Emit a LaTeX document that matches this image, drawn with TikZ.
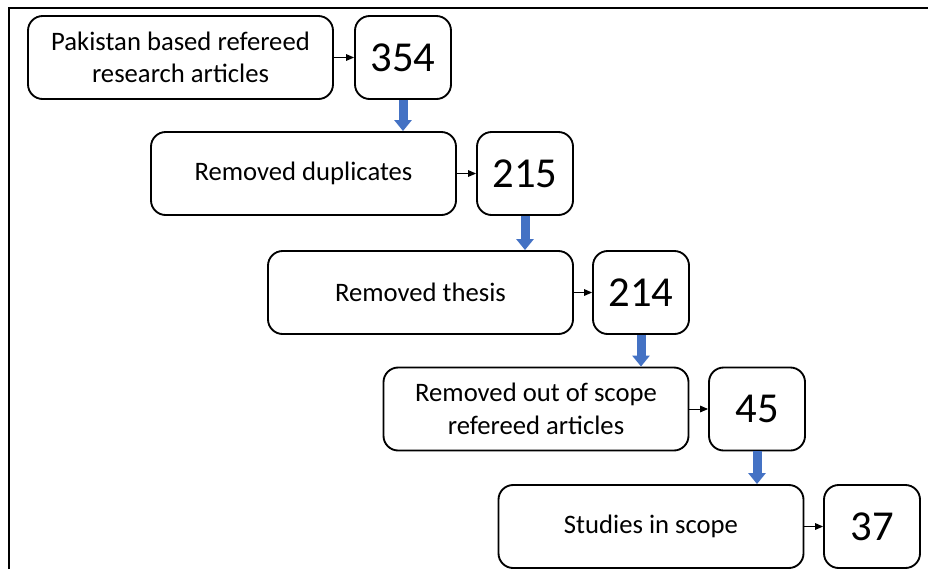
\documentclass[tikz,border=0pt]{standalone}
\usepackage{fontspec}
\setmainfont{Carlito}
\usetikzlibrary{arrows.meta}
\definecolor{dropblue}{RGB}{68,114,196}

\begin{document}
\begin{tikzpicture}[x=0.75pt,y=-0.75pt,
  stepbox/.style={draw=black,line width=1.4pt,rounded corners=11pt,
    minimum width=228.75pt,minimum height=62.25pt,inner sep=2pt,
    align=center,font=\fontsize{20}{24.5}\selectfont},
  countbox/.style={stepbox,minimum width=72pt,font=\fontsize{32}{38}\selectfont},
  link/.style={-{Triangle[length=6pt,width=5pt]},draw=black,line width=.75pt},
  drop/.style={-{Triangle[length=8.25pt,width=12.75pt]},draw=dropblue,line width=6.75pt}
]
 \path[use as bounding box] (0,0) rectangle (928,569);
 \draw[line width=1.5pt] (9,569) -- (9,8) -- (928,8);

 % screening steps, each with its remaining count
 \node[stepbox]  (pak)     at (180.5,57.5) {Pakistan based refereed\\research articles};
 \node[countbox] (n354)    at (403,57.5)   {354};
 \node[stepbox]  (dup)     at (303.5,173.5) {Removed duplicates};
 \node[countbox] (n215)    at (525,173.5)  {215};
 \node[stepbox]  (thesis)  at (420.5,292.5) {Removed thesis};
 \node[countbox] (n214)    at (641,292.5)  {214};
 \node[stepbox]  (scope)   at (536,409)    {Removed out of scope\\refereed articles};
 \node[countbox] (n45)     at (757,409)    {45};
 \node[stepbox]  (studies) at (651,526.5)  {Studies in scope};
 \node[countbox] (n37)     at (872,526.5)  {37};

 \foreach \a/\b in {pak/n354,dup/n215,thesis/n214,scope/n45,studies/n37}
   \draw[link] (\a) -- (\b);

 \foreach \a/\b in {n354/dup,n215/thesis,n214/scope,n45/studies}
   \draw[drop] (\a.south) -- (\a.south |- \b.north);
\end{tikzpicture}
\end{document}
